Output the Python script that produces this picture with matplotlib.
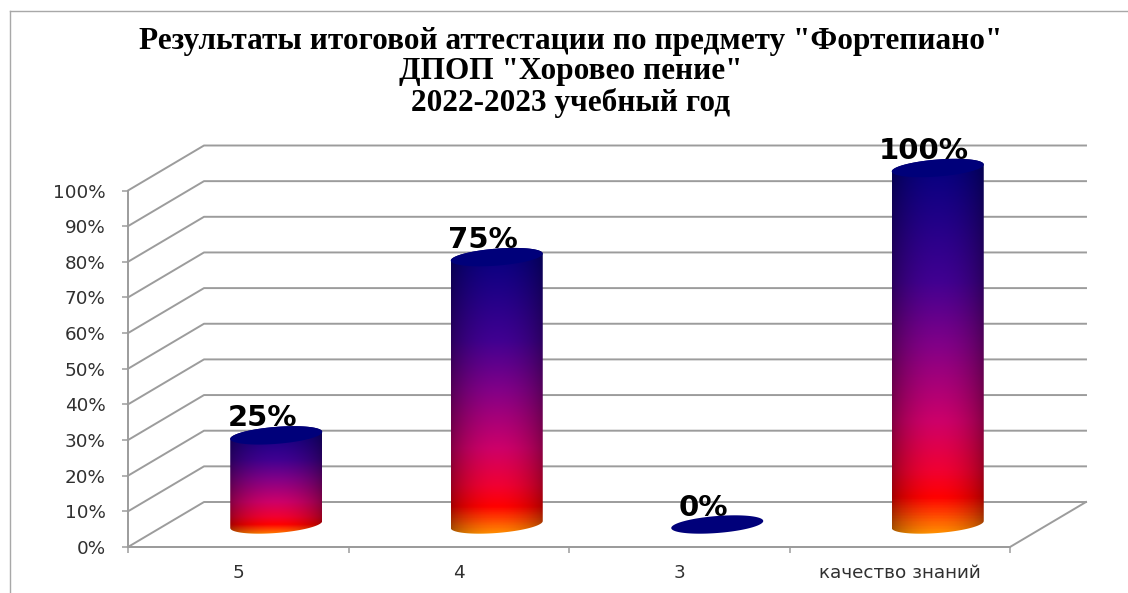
import numpy as np
import matplotlib
matplotlib.use("Agg")
import matplotlib.pyplot as plt
from matplotlib.path import Path
from matplotlib.patches import PathPatch
from matplotlib.colors import LinearSegmentedColormap

categories = ["5", "4", "3", "качество знаний"]
values = [25, 75, 0, 100]
y_ticks = list(range(0, 101, 10))
title_lines = ['Результаты итоговой аттестации по предмету "Фортепиано"',
               'ДПОП "Хоровео пение"', '2022-2023 учебный год']

W, H = 1128, 593
PX_X, PX_Y = 220.5, 3.565   # pixels per category, pixels per percent
X0, Y0 = 128, 547           # pixel position of the data origin

fig = plt.figure(figsize=(W / 100, H / 100), dpi=100, facecolor="white")
ax = fig.add_axes([0, 0, 1, 1])
xlim = (-X0 / PX_X, (W - X0) / PX_X)
ylim = (-(H - Y0) / PX_Y, Y0 / PX_Y)
ax.patch.set_alpha(0)

GRID = "#9c9c9c"
DX = 76 / PX_X    # depth of the 3-D box in category units
DY = 45 / PX_Y    # depth of the 3-D box in percent units
lw = 1.4

for v in y_ticks:
    ax.plot([0, DX, 4 + DX], [v, v + DY, v + DY], color=GRID, lw=lw, zorder=1)
ax.plot([0, 4, 4 + DX], [0, 0, DY], color=GRID, lw=lw, zorder=1)

for side in ("top", "right"):
    ax.spines[side].set_visible(False)
ax.spines["left"].set_position(("data", 0))
ax.spines["bottom"].set_position(("data", 0))
ax.spines["left"].set_bounds(0, 100)
ax.spines["bottom"].set_bounds(0, 4)
ax.spines["left"].set_color(GRID)
ax.spines["bottom"].set_color(GRID)
ax.spines["left"].set_linewidth(lw)
ax.spines["bottom"].set_linewidth(lw)

ax.set_yticks(y_ticks)
ax.set_yticklabels([f"{v}%" for v in y_ticks], fontsize=13.2, color="#303030", family="DejaVu Sans")
ax.set_xticks(range(5))
ax.set_xticklabels([])
ax.set_xticks([i + 0.5 for i in range(4)], labels=categories, minor=True)
ax.tick_params(axis="both", which="major", color=GRID, width=1.1, length=4.5)
ax.tick_params(axis="y", pad=11.5)
ax.tick_params(axis="x", which="minor", length=0, pad=12, labelsize=13.2, labelcolor="#303030")

stops = [(0.00, (0, 0, 125)), (0.33, (65, 0, 145)), (0.50, (130, 0, 135)), (0.70, (205, 0, 105)),
         (0.83, (240, 0, 50)), (0.90, (255, 0, 0)), (1.00, (255, 150, 0))]
cmap = LinearSegmentedColormap.from_list("cyl", [(p, tuple(x / 255 for x in c)) for p, c in stops])

HALF_W = 46 / PX_X
TILT = 3.5 / PX_Y
MINOR = 8.5 / PX_Y
t = np.linspace(0, 2 * np.pi, 121)
u = np.linspace(-1, 1, 200)
shade = (0.62 + 0.38 * np.cos(u * np.pi / 2) ** 0.7)[None, :, None]

for i, v in enumerate(values):
    cx = i + 0.5 + DX / 2
    base = DY / 2
    top = base + v
    lo = np.linspace(np.pi, 2 * np.pi, 60)
    hi = np.linspace(0, np.pi, 60)
    xs = np.r_[cx + HALF_W * np.cos(lo), cx + HALF_W * np.cos(hi)]
    ys = np.r_[base + TILT * np.cos(lo) + MINOR * np.sin(lo), top + TILT * np.cos(hi) + MINOR * np.sin(hi)]
    if v > 0:
        y0, y1 = base - MINOR - TILT, top + MINOR + TILT
        grad = cmap(np.linspace(0, 1, 400))[:, :3][:, None, :]
        img = np.clip(np.repeat(grad, 200, axis=1) * shade, 0, 1)
        im = ax.imshow(img, extent=[cx - HALF_W, cx + HALF_W, y0, y1], origin="upper",
                       aspect="auto", zorder=3, interpolation="bilinear")
        im.set_clip_path(PathPatch(Path(np.c_[xs, ys]), transform=ax.transData))
    ax.fill(cx + HALF_W * np.cos(t), top + TILT * np.cos(t) + MINOR * np.sin(t),
            color="#00007a", lw=0, zorder=4)
    ax.annotate(f"{v}%", (cx, top), xytext=(-14, 17), textcoords="offset pixels",
                ha="center", va="center", fontsize=21, fontweight="bold", color="black",
                family="DejaVu Sans", zorder=2)

ax.set_xlim(*xlim)
ax.set_ylim(*ylim)

for y, line in zip([41, 72, 103], title_lines):
    fig.text(571 / W, 1 - y / H, line, ha="center", va="center", fontsize=22.5, fontweight="bold",
             family="Liberation Serif", color="black")

# picture frame
fig.add_artist(plt.Line2D([10 / W, 10 / W], [0, 1 - 11 / H], color="#a8a8a8", lw=1))
fig.add_artist(plt.Line2D([10 / W, 1], [1 - 11 / H, 1 - 11 / H], color="#a8a8a8", lw=1))

fig.savefig("out.png", dpi=100)
